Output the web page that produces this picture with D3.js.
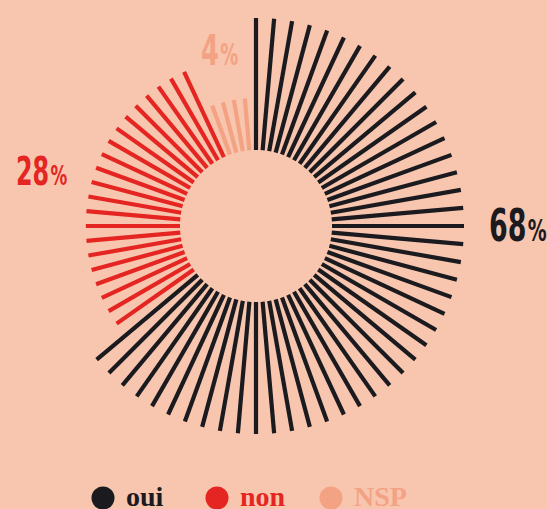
<!DOCTYPE html>
<html>
<head>
<meta charset="utf-8">
<script src="https://cdn.jsdelivr.net/npm/d3@7"></script>
<style>
  body { margin: 0; background: #f8c6af; }
  svg { display: block; }
  .pct { font-family: "Liberation Sans Narrow", "DejaVu Sans Condensed", sans-serif; font-weight: bold; }
  .legend text { font-family: "Liberation Serif", serif; font-weight: bold; font-size: 28px; }
</style>
</head>
<body>
<div id="chart"></div>
<script>
/* Radial "sunburst" of answers: oui / non / NSP */

const categories = ["oui", "non", "NSP"];
const values = [68, 28, 4];
// number of rays drawn for each answer, counted on the picture (5 degrees apart)
const rayCounts = [47, 21, 4];
const pctLabels = ["68", "28", "4"];

let width = 547,
  height = 509,
  cx = 256,
  cy = 226,
  innerR = 76;

const svg = d3
  .select("#chart")
  .append("svg")
  .attr("width", width)
  .attr("height", height)
  .attr("viewBox", [0, 0, width, height]);

svg.append("rect").attr("width", width).attr("height", height).attr("fill", "#f8c6af");

let color = d3
  .scaleOrdinal()
  .domain(categories)
  .range(["#1b1a1f", "#e42522", "#f3a384"]);

// ray length grows with the share
let outer = d3.scalePow().exponent(0.5).domain([0, 68]).range([102.4, 208]);

let rays = [];
categories.forEach((c, k) => {
  for (let j = 0; j < rayCounts[k]; j++) rays.push({ cat: c, value: values[k] });
});

let angle = d3
  .scaleLinear()
  .domain([0, rays.length])
  .range([0, 2 * Math.PI]);

const g = svg.append("g").attr("transform", `translate(${cx},${cy})`);

g.selectAll(".ray")
  .data(rays)
  .join("line")
  .attr("class", "ray")
  .attr("x1", (d, i) => d3.pointRadial(angle(i), innerR)[0])
  .attr("y1", (d, i) => d3.pointRadial(angle(i), innerR)[1])
  .attr("x2", (d, i) => d3.pointRadial(angle(i), outer(d.value))[0])
  .attr("y2", (d, i) => d3.pointRadial(angle(i), outer(d.value))[1])
  .attr("stroke", (d) => color(d.cat))
  .attr("stroke-width", 4.2);

// percentage labels
let labelPos = [
  { x: 489, y: 241, size: 44 },
  { x: 16, y: 185, size: 39 },
  { x: 201, y: 65, size: 42 },
];

categories.forEach((c, k) => {
  let p = labelPos[k];
  let t = svg
    .append("text")
    .attr("class", "pct")
    .attr("transform", `translate(${p.x},${p.y}) scale(0.68,1)`)
    .attr("fill", color(c))
    .style("font-size", p.size + "px");
  t.append("tspan").text(pctLabels[k]);
  t.append("tspan").attr("dx", 2).style("font-size", p.size * 0.7 + "px").text("%");
});

// legend
let legendX = [103, 217, 331];
const legend = svg.append("g").attr("class", "legend");

legend
  .selectAll("circle")
  .data(categories)
  .join("circle")
  .attr("cx", (d, i) => legendX[i])
  .attr("cy", 498)
  .attr("r", 11.5)
  .attr("fill", (d) => color(d));

legend
  .selectAll("text")
  .data(categories)
  .join("text")
  .attr("x", (d, i) => legendX[i] + 23)
  .attr("y", 506)
  .attr("fill", (d) => color(d))
  .text((d) => d);
</script>
</body>
</html>
